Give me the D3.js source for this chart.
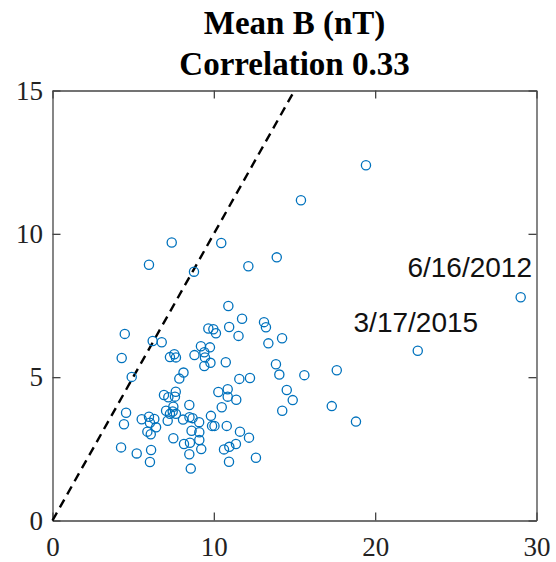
<!DOCTYPE html>
<html>
<head>
<meta charset="utf-8">
<script src="https://cdn.jsdelivr.net/npm/d3@7"></script>
<style>
  html, body { margin: 0; padding: 0; background: #fff; }
  svg { display: block; }
</style>
</head>
<body>
<div id="chart"></div>
<script>
// ---- Data ----
const titleLines = ["Mean B (nT)", "Correlation 0.33"];
const xDomain = [0, 30];
const yDomain = [0, 15];
const xTicks = [0, 10, 20, 30];
const yTicks = [0, 5, 10, 15];

const xValues = [
  7.39, 10.46, 5.98, 8.77, 10.90, 11.75, 4.48, 9.66, 9.97, 10.13,
  10.95, 11.53, 6.21, 6.77, 9.20, 9.76, 4.29, 7.28, 7.55, 7.65,
  8.80, 9.41, 9.45, 9.79, 9.41, 10.74, 4.91, 8.12, 7.86, 11.58,
  12.24, 6.91, 7.18, 7.64, 7.59, 10.28, 10.86, 10.86, 11.39, 8.48,
  10.49, 4.56, 4.43, 5.53, 5.98, 6.31, 6.04, 7.04, 7.28, 7.49,
  7.45, 7.65, 7.14, 8.09, 8.49, 8.68, 9.09, 9.82, 9.89, 10.04,
  10.80, 6.42, 5.88, 6.09, 8.62, 9.10, 11.62, 7.49, 8.15, 8.52,
  9.10, 9.22, 12.18, 4.25, 5.22, 6.11, 6.04, 8.48, 8.57, 10.63,
  10.96, 11.37, 10.94, 12.61, 12.14, 13.90, 13.11, 13.23, 14.23, 13.38,
  13.85, 14.06, 15.61, 17.62, 14.52, 14.89, 14.24, 17.31, 18.81, 19.43,
  15.40, 29.02, 22.64
];
const yValues = [
  9.70, 9.68, 8.92, 8.68, 7.48, 7.04, 6.51, 6.70, 6.67, 6.53,
  6.75, 6.44, 6.26, 6.22, 6.08, 6.04, 5.67, 5.70, 5.80, 5.69,
  5.77, 5.87, 5.69, 5.50, 5.39, 5.52, 5.01, 5.16, 4.95, 4.94,
  4.97, 4.38, 4.30, 4.49, 4.32, 4.48, 4.58, 4.32, 4.21, 4.03,
  3.95, 3.76, 3.36, 3.53, 3.62, 3.54, 3.41, 3.83, 3.72, 3.97,
  3.80, 3.72, 3.48, 3.52, 3.60, 3.57, 3.43, 3.65, 3.30, 3.30,
  3.30, 3.25, 3.10, 3.01, 3.13, 3.08, 3.10, 2.87, 2.67, 2.71,
  2.81, 2.49, 2.89, 2.55, 2.34, 2.46, 2.04, 2.31, 1.81, 2.48,
  2.57, 2.67, 2.05, 2.19, 8.87, 9.18, 6.92, 6.74, 6.36, 6.18,
  5.45, 5.09, 5.07, 5.24, 4.55, 4.20, 3.83, 3.99, 3.45, 12.39,
  11.17, 7.79, 5.92
];
// reference line y = x
const refLineX = [0, 15];
const refLineY = [0, 15];
// event annotations (text, anchor position in data units, alignment)
const annoText = ["6/16/2012", "3/17/2015"];
const annoX = [29.72, 22.52];
const annoY = [8.49, 6.59];
const annoAnchor = ["end", "middle"];

// ---- Layout ----
const W = 556, H = 562;
const mLeft = 52.5, mRight = 536.5, mTop = 90.5, mBottom = 520.5;
const axisColor = "#444";
const serif = "'Liberation Serif', 'Times New Roman', serif";

const svg = d3.select("#chart").append("svg")
  .attr("width", W).attr("height", H);

const x = d3.scaleLinear().domain(xDomain).range([mLeft, mRight]);
const y = d3.scaleLinear().domain(yDomain).range([mBottom, mTop]);

// Title
svg.append("g").selectAll("text").data(titleLines).join("text")
  .attr("x", (mLeft + mRight) / 2)
  .attr("y", (d, i) => 34 + i * 41)
  .attr("text-anchor", "middle")
  .attr("font-family", serif)
  .attr("font-weight", "bold")
  .attr("font-size", 33)
  .attr("fill", "#000")
  .text(d => d);

function styleAxis(g) {
  g.selectAll(".domain").attr("stroke", axisColor).attr("stroke-width", 1.3);
  g.selectAll(".tick line").attr("stroke", axisColor).attr("stroke-width", 1.3);
  g.selectAll(".tick text")
    .attr("font-family", serif)
    .attr("font-size", 27)
    .attr("fill", "#222");
}

// Axes (ticks point inward, box on all sides)
svg.append("g").attr("transform", `translate(0,${mBottom})`)
  .call(d3.axisBottom(x).tickValues(xTicks).tickFormat(d3.format("d"))
    .tickSizeInner(-8).tickSizeOuter(0).tickPadding(16))
  .call(styleAxis);
svg.append("g").attr("transform", `translate(0,${mTop})`)
  .call(d3.axisTop(x).tickValues(xTicks).tickFormat("")
    .tickSizeInner(-8).tickSizeOuter(0))
  .call(styleAxis);
svg.append("g").attr("transform", `translate(${mLeft},0)`)
  .call(d3.axisLeft(y).tickValues(yTicks).tickFormat(d3.format("d"))
    .tickSizeInner(-8).tickSizeOuter(0).tickPadding(9.5))
  .call(styleAxis);
svg.append("g").attr("transform", `translate(${mRight},0)`)
  .call(d3.axisRight(y).tickValues(yTicks).tickFormat("")
    .tickSizeInner(-8).tickSizeOuter(0))
  .call(styleAxis);

// Dashed reference line
const refPts = refLineX.map((v, i) => [v, refLineY[i]]);
svg.append("path")
  .datum(refPts)
  .attr("d", d3.line().x(d => x(d[0])).y(d => y(d[1])))
  .attr("fill", "none")
  .attr("stroke", "#000")
  .attr("stroke-width", 2.4)
  .attr("stroke-dasharray", "9,6");

// Scatter points
const pts = xValues.map((v, i) => ({ x: v, y: yValues[i] }));
svg.append("g").selectAll("circle").data(pts).join("circle")
  .attr("cx", d => x(d.x))
  .attr("cy", d => y(d.y))
  .attr("r", 4.6)
  .attr("fill", "none")
  .attr("stroke", "#0072BD")
  .attr("stroke-width", 1.3);

// Annotations
svg.append("g").selectAll("text").data(annoText).join("text")
  .attr("x", (d, i) => x(annoX[i]))
  .attr("y", (d, i) => y(annoY[i]))
  .attr("text-anchor", (d, i) => annoAnchor[i])
  .attr("font-family", "'Liberation Sans', Arial, sans-serif")
  .attr("font-size", 28)
  .attr("fill", "#111")
  .text(d => d);
</script>
</body>
</html>
